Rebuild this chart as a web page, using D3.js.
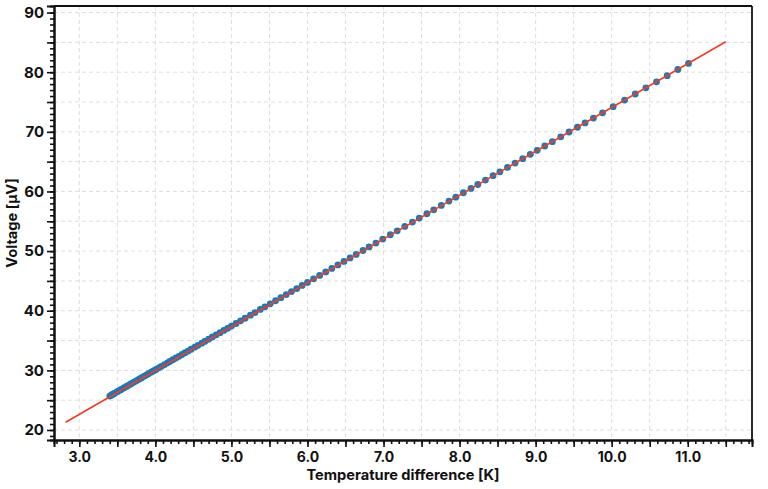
<!DOCTYPE html>
<html>
<head>
<meta charset="utf-8">
<script src="https://cdn.jsdelivr.net/npm/d3@7"></script>
<style>
  html, body { margin: 0; padding: 0; background: #fff; }
  svg { display: block; }
  text { font-family: "Inter", "DejaVu Sans", sans-serif; font-weight: 700; }
</style>
</head>
<body>
<svg id="chart" width="768" height="489"></svg>
<script>
// ---- data ----
const tempDiff = [
  3.40, 3.42, 3.44, 3.46, 3.49, 3.51, 3.54, 3.56, 3.59, 3.62, 3.64, 3.67, 3.70, 3.73, 3.76, 3.79,
  3.82, 3.85, 3.88, 3.91, 3.95, 3.98, 4.01, 4.05, 4.08, 4.12, 4.16, 4.19, 4.23, 4.27, 4.31, 4.35,
  4.39, 4.43, 4.47, 4.52, 4.56, 4.61, 4.65, 4.70, 4.75, 4.80, 4.85, 4.90, 4.95, 5.00,
  5.06, 5.12, 5.18, 5.25, 5.31, 5.38, 5.44, 5.51, 5.58, 5.65, 5.72, 5.79, 5.86, 5.93, 6.00,
  6.08, 6.16, 6.24, 6.32, 6.40, 6.48, 6.56, 6.64, 6.73, 6.81, 6.90, 6.99,
  7.09, 7.18, 7.28, 7.38, 7.47, 7.57, 7.66, 7.76, 7.86, 7.95, 8.05, 8.15, 8.24, 8.34, 8.44, 8.53,
  8.63, 8.73, 8.83, 8.93, 9.02, 9.12, 9.22, 9.33, 9.44, 9.55, 9.65, 9.76, 9.88, 10.02, 10.17,
  10.31, 10.45, 10.59, 10.73, 10.87, 11.01
];
const voltage = [
  25.69, 25.84, 25.99, 26.13, 26.35, 26.50, 26.72, 26.86, 27.08, 27.30, 27.45, 27.67, 27.89, 28.11, 28.33, 28.55,
  28.77, 28.99, 29.21, 29.43, 29.72, 29.94, 30.16, 30.46, 30.68, 30.97, 31.26, 31.48, 31.78, 32.07, 32.36, 32.66,
  32.95, 33.24, 33.54, 33.90, 34.19, 34.56, 34.85, 35.22, 35.59, 35.95, 36.32, 36.69, 37.05, 37.42,
  37.86, 38.30, 38.74, 39.25, 39.69, 40.21, 40.65, 41.16, 41.67, 42.18, 42.70, 43.21, 43.72, 44.24, 44.75,
  45.34, 45.92, 46.51, 47.10, 47.68, 48.27, 48.85, 49.44, 50.10, 50.69, 51.35, 52.01,
  52.74, 53.40, 54.13, 54.87, 55.53, 56.26, 56.92, 57.65, 58.38, 59.04, 59.78, 60.51, 61.17, 61.90, 62.64, 63.29,
  64.03, 64.76, 65.49, 66.23, 66.89, 67.62, 68.35, 69.16, 69.97, 70.77, 71.50, 72.31, 73.19, 74.22, 75.32,
  76.34, 77.37, 78.39, 79.42, 80.45, 81.47
];
const fitX = [2.82, 11.50];
const fitY = [21.30, 85.10];
const xTickLabels = [3.0, 4.0, 5.0, 6.0, 7.0, 8.0, 9.0, 10.0, 11.0];
const yTickLabels = [20, 30, 40, 50, 60, 70, 80, 90];
const xTitle = "Temperature difference [K]";
const yTitle = "Voltage [μV]";

// ---- layout ----
const W = 768, H = 489;
const m = { left: 54, top: 6, right: 16, bottom: 49 };
const iw = W - m.left - m.right, ih = H - m.top - m.bottom;

const svg = d3.select("#chart");
const g = svg.append("g").attr("transform", `translate(${m.left},${m.top})`);

const x = d3.scaleLinear().domain([2.667, 11.845]).range([0, iw]);
const y = d3.scaleLinear().domain([18.32, 91.1]).range([ih, 0]);

const xGrid = d3.range(3.0, 11.51, 0.5);
const yGrid = d3.range(20, 90.1, 5);
const xMinor = d3.range(2.7, 11.81, 0.1).map(v => +v.toFixed(1));
const yMinor = d3.range(19, 91, 1);

// grid
g.append("g").selectAll("line").data(xGrid).join("line")
  .attr("x1", d => x(d)).attr("x2", d => x(d)).attr("y1", 0).attr("y2", ih)
  .attr("stroke", "#dedede").attr("stroke-width", 1).attr("stroke-dasharray", "4,3");
g.append("g").selectAll("line").data(yGrid).join("line")
  .attr("y1", d => y(d)).attr("y2", d => y(d)).attr("x1", 0).attr("x2", iw)
  .attr("stroke", "#dedede").attr("stroke-width", 1).attr("stroke-dasharray", "4,3");

// points
g.append("g").selectAll("circle").data(tempDiff).join("circle")
  .attr("cx", d => x(d)).attr("cy", (d, i) => y(voltage[i])).attr("r", 3.4)
  .attr("fill", "#1f77b4");

// fit line
g.append("path")
  .datum(fitX.map((d, i) => [d, fitY[i]]))
  .attr("d", d3.line().x(d => x(d[0])).y(d => y(d[1])))
  .attr("fill", "none").attr("stroke", "#e8412a").attr("stroke-width", 1.7);

// frame top/right
g.append("line").attr("x1", 0).attr("x2", iw).attr("y1", 0).attr("y2", 0)
  .attr("stroke", "#111").attr("stroke-width", 1.8);
g.append("line").attr("x1", iw).attr("x2", iw).attr("y1", 0).attr("y2", ih)
  .attr("stroke", "#111").attr("stroke-width", 1.8);

// ticks
const xMinorAxis = d3.axisBottom(x).tickValues(xMinor).tickSize(4).tickFormat("");
const yMinorAxis = d3.axisLeft(y).tickValues(yMinor).tickSize(4).tickFormat("");
const xMajorAxis = d3.axisBottom(x).tickValues(xGrid).tickSize(7)
  .tickFormat(d => xTickLabels.includes(d) ? d3.format(".1f")(d) : "");
const yMajorAxis = d3.axisLeft(y).tickValues(yGrid).tickSize(7)
  .tickFormat(d => yTickLabels.includes(d) ? d : "");

function styleAxis(sel) {
  sel.select(".domain").attr("stroke", "#111").attr("stroke-width", 2);
  sel.selectAll(".tick line").attr("stroke", "#111").attr("stroke-width", 1.6);
  sel.selectAll("text").attr("fill", "#111").style("font-size", "15px")
     .style("font-family", '"Inter", "DejaVu Sans", sans-serif').style("font-weight", 700);
}

g.append("g").attr("transform", `translate(0,${ih})`).call(xMinorAxis).call(styleAxis);
g.append("g").call(yMinorAxis).call(styleAxis);
const xa = g.append("g").attr("transform", `translate(0,${ih})`).call(xMajorAxis).call(styleAxis);
xa.selectAll("text").attr("dy", null).attr("y", 22).style("font-size", "14px");
const ya = g.append("g").call(yMajorAxis).call(styleAxis);
ya.selectAll("text").attr("x", -10);

// titles
svg.append("text").attr("x", m.left + iw / 2).attr("y", 480)
  .attr("text-anchor", "middle").attr("fill", "#111").style("font-size", "14.6px")
  .text(xTitle);
svg.append("text")
  .attr("transform", `translate(17,${m.top + ih / 2}) rotate(-90)`)
  .attr("text-anchor", "middle").attr("fill", "#111").style("font-size", "14.6px")
  .text(yTitle);
</script>
</body>
</html>
